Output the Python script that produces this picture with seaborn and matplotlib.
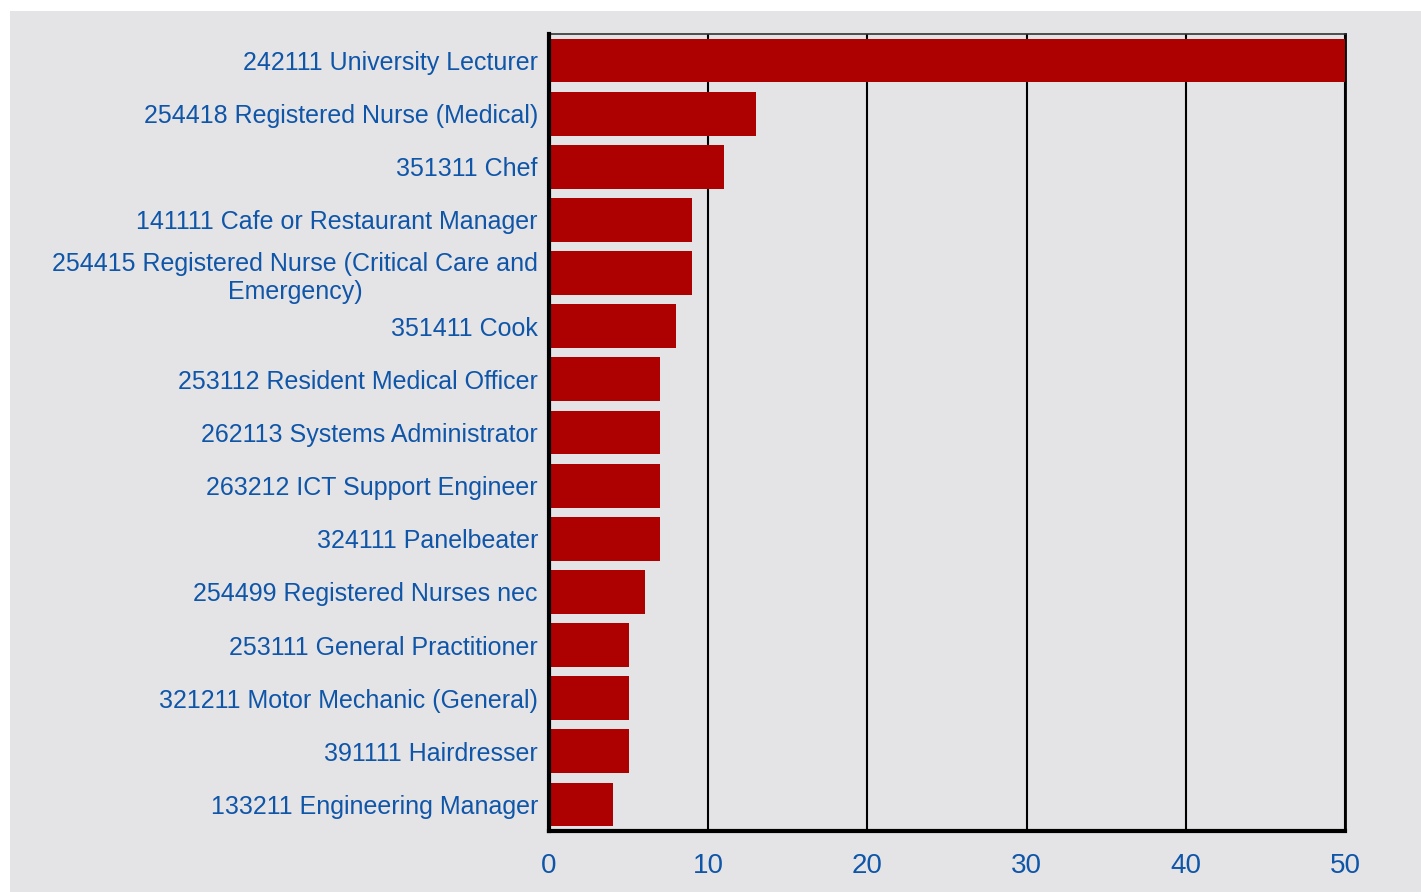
import matplotlib
matplotlib.use("Agg")
import matplotlib.pyplot as plt
import seaborn as sns
import pandas as pd
from matplotlib.patches import Rectangle

occupations = [
    "242111 University Lecturer",
    "254418 Registered Nurse (Medical)",
    "351311 Chef",
    "141111 Cafe or Restaurant Manager",
    "254415 Registered Nurse (Critical Care and\nEmergency)",
    "351411 Cook",
    "253112 Resident Medical Officer",
    "262113 Systems Administrator",
    "263212 ICT Support Engineer",
    "324111 Panelbeater",
    "254499 Registered Nurses nec",
    "253111 General Practitioner",
    "321211 Motor Mechanic (General)",
    "391111 Hairdresser",
    "133211 Engineering Manager",
]
counts = [50, 13, 11, 9, 9, 8, 7, 7, 7, 7, 6, 5, 5, 5, 4]
x_ticks = [0, 10, 20, 30, 40, 50]

BG = "#e4e4e7"
BAR = "#ad0000"
LABEL = "#0f55a8"

sns.set_theme(style="white")
plt.rcParams["font.family"] = ["Liberation Sans", "DejaVu Sans"]

df = pd.DataFrame({"occupation": occupations, "count": counts})

W, H = 1421, 892
fig = plt.figure(figsize=(W / 100, H / 100), dpi=100, facecolor="white")
fig.patches.append(Rectangle((10 / W, 0), 1 - 10 / W, 1 - 11 / H,
                             transform=fig.transFigure, facecolor=BG,
                             edgecolor="none", zorder=-10))
ax = fig.add_axes([549 / W, 1 - 831 / H, (1345 - 549) / W, (831 - 34) / H])
ax.set_facecolor(BG)

sns.barplot(data=df, x="count", y="occupation", orient="h", color=BAR,
            saturation=1, width=0.825, linewidth=0, ax=ax, zorder=3)

ax.set_xlim(0, 50)
ax.set_xticks(x_ticks)
ax.set_xlabel("")
ax.set_ylabel("")
ax.grid(axis="x", color="black", linewidth=1.5, zorder=1)
ax.grid(axis="y", visible=False)
ax.set_axisbelow(True)

for side in ["left", "bottom"]:
    ax.spines[side].set_color("black")
    ax.spines[side].set_linewidth(3)
    ax.spines[side].set_zorder(5)
ax.spines["top"].set_color("#333333")
ax.spines["top"].set_linewidth(1.2)
ax.spines["right"].set_color("black")
ax.spines["right"].set_linewidth(2)

ax.tick_params(axis="y", length=0, pad=8, labelsize=18, labelcolor=LABEL)
ax.tick_params(axis="x", length=0, pad=16, labelsize=20, labelcolor=LABEL)
for lab in ax.get_yticklabels():
    lab.set_multialignment("center")
    lab.set_linespacing(1.25)

fig.savefig("out.png", dpi=100, facecolor="white")
